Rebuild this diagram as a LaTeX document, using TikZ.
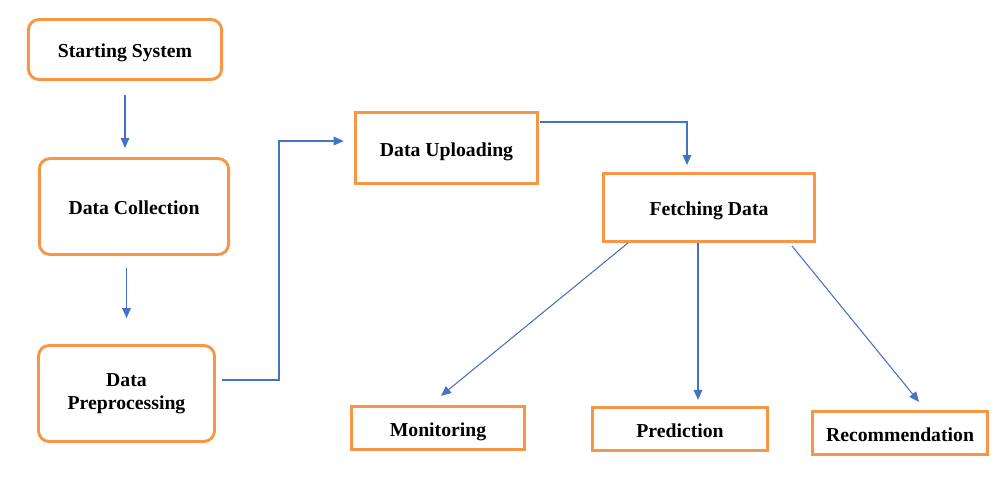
\documentclass[tikz,border=0pt]{standalone}
\usepackage{fontspec}
\setmainfont{Liberation Serif}
\usetikzlibrary{arrows.meta}
\definecolor{boxorange}{RGB}{247,150,70}
\definecolor{lineblue}{RGB}{68,114,196}
\begin{document}
\begin{tikzpicture}[x=0.75pt, y=-0.75pt,
        box/.style={draw=boxorange, line width=2.2pt, fill=white, align=center,
            font=\fontsize{14.8}{17.3}\selectfont\bfseries, inner sep=0pt,
            text height=12.5pt, text depth=0pt},
        roundbox/.style={box, rounded corners=8pt},
        conn/.style={draw=lineblue, line width=0.8pt, -{Triangle[length=7.5pt,width=6.5pt]}}]
        \useasboundingbox (0,0) rectangle (1007,476);
        % left column
        \node[roundbox, minimum width=145pt, minimum height=45pt] (start) at (125,49.5) {Starting System};
        \node[roundbox, minimum width=142pt, minimum height=72pt] (coll) at (134,206.5) {Data Collection};
        \node[roundbox, minimum width=132pt, minimum height=72pt, text height=, text depth=] (prep) at (126.5,393.5) {Data\\Preprocessing};
        % upper right
        \node[box, minimum width=137pt, minimum height=53.5pt] (upl) at (446.5,148) {Data Uploading};
        \node[box, minimum width=158.5pt, minimum height=51pt] (fetch) at (709,207.5) {Fetching Data};
        % outputs
        \node[box, minimum width=130pt, minimum height=32.5pt] (mon) at (438,428) {Monitoring};
        \node[box, minimum width=131.5pt, minimum height=32.5pt] (pred) at (680,429) {Prediction};
        \node[box, minimum width=131.5pt, minimum height=32.5pt] (rec) at (900,433) {Recommendation};

        \draw[conn, shorten <=10.5pt, shorten >=6.75pt] (start.south) -- (start.south |- coll.north);
        \draw[conn, shorten <=9pt, shorten >=19.5pt] (prep.north |- coll.south) -- (prep.north);
        \draw[conn] ([shift={(6,-13.5)}]prep.east) -- ++(57,0) |- ([shift={(-10,-7)}]upl.west);
        \draw[conn] ([shift={(1,-26)}]upl.east) -| ([shift={(-22,-7)}]fetch.north);
        \draw[conn] ([xshift=-81*0.75pt]fetch.south) -- ([shift={(3,-9)}]mon.north);
        \draw[conn, shorten >=4.5pt] ([xshift=-11*0.75pt]fetch.south) -- ([xshift=-11*0.75pt]fetch.south |- pred.north);
        \draw[conn] ([shift={(83,3)}]fetch.south) -- ([shift={(19,-8)}]rec.north);
    \end{tikzpicture}
\end{document}
